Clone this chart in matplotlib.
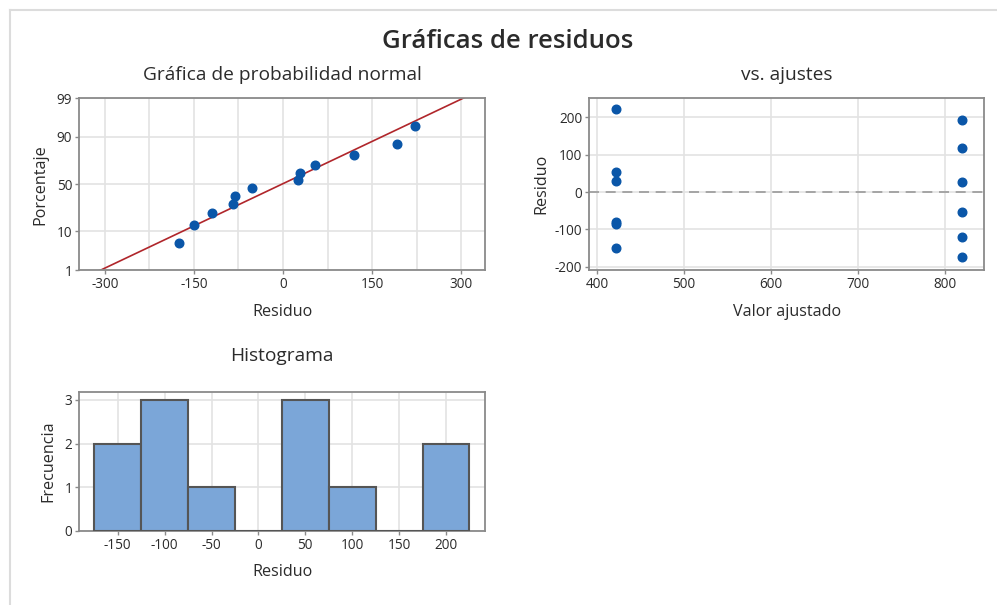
import matplotlib
matplotlib.use("Agg")
import matplotlib.pyplot as plt
from matplotlib.lines import Line2D
from statistics import NormalDist
import numpy as np

# Residuals with the fitted value of each observation
residuals = [222, 54, 29, -81, -85, -150, 192, 119, 26, -53, -120, -175]
fitted = [421, 421, 421, 421, 421, 421, 820, 820, 820, 820, 820, 820]

# Normal probability plot: plotting positions (percent) for the sorted residuals
prob_percent = [5.6, 13.7, 21.8, 29.8, 37.9, 46.0, 54.0, 62.1, 70.2, 78.2, 86.3, 94.4]
prob_ticks = [1, 10, 50, 90, 99]
prob_xticks = [-300, -150, 0, 150, 300]

# Histogram bins
bin_edges = [-175, -125, -75, -25, 25, 75, 125, 175, 225]
hist_xticks = [-150, -100, -50, 0, 50, 100, 150, 200]
hist_yticks = [0, 1, 2, 3]

fit_xticks = [400, 500, 600, 700, 800]
fit_yticks = [-200, -100, 0, 100, 200]

plt.rcParams['font.family'] = ['Open Sans', 'DejaVu Sans']
plt.rcParams['axes.unicode_minus'] = False

DOT = '#0a56a8'
BAR = '#7ba6d8'
EDGE = '#555555'
SPINE = '#8a8a8a'
GRID = '#e3e3e3'
TXT = '#2b2b2b'
LINE = '#b0262b'

W, H = 997, 605
fig = plt.figure(figsize=(W / 100, H / 100), dpi=100)
fig.patch.set_facecolor('white')


def ax_rect(left, top, right, bottom):
    return [left / W, 1 - bottom / H, (right - left) / W, (bottom - top) / H]


def style(ax):
    for s in ax.spines.values():
        s.set_color(SPINE)
        s.set_linewidth(1.3)
    ax.tick_params(colors=TXT, labelsize=9.8, length=3, width=1, color=SPINE, pad=2)
    ax.set_axisbelow(True)


nd = NormalDist()
LABEL_FS = 11.6
TITLE_FS = 13.8

# --- Normal probability plot ---
ax1 = fig.add_axes(ax_rect(79.3, 98.3, 485, 270))
style(ax1)
sorted_res = np.sort(residuals)
z_pts = [nd.inv_cdf(p / 100) for p in prob_percent]
mu = float(np.mean(residuals))
sd = float(np.std(residuals, ddof=1))
xl = np.array([-343, 340])
ax1.plot(xl, (xl - mu) / sd, color=LINE, lw=1.2, zorder=2)
ax1.plot(sorted_res, z_pts, 'o', color=DOT, ms=6.2, zorder=3)
ax1.set_xlim(-343, 340)
ax1.set_ylim(nd.inv_cdf(0.01), nd.inv_cdf(0.99))
ax1.set_xticks(prob_xticks)
ax1.set_xticks(np.arange(-300, 301, 75), minor=True)
ax1.tick_params(which='minor', length=0)
ax1.set_yticks([nd.inv_cdf(p / 100) for p in prob_ticks])
ax1.set_yticklabels([str(p) for p in prob_ticks])
ax1.grid(True, which='both', axis='x', color=GRID, lw=1.2)
ax1.grid(True, which='major', axis='y', color=GRID, lw=1.2)
ax1.set_xlabel('Residuo', fontsize=LABEL_FS, color=TXT, labelpad=9)
ax1.set_ylabel('Porcentaje', fontsize=LABEL_FS, color=TXT, labelpad=6)
ax1.set_title('Gráfica de probabilidad normal', fontsize=TITLE_FS, color=TXT, pad=13)

# --- Residuals versus fits ---
ax2 = fig.add_axes(ax_rect(589.3, 97.7, 984, 270))
style(ax2)
ax2.axhline(0, color='#9a9a9a', lw=1.2, ls=(0, (6, 4)), zorder=2)
ax2.plot(fitted, residuals, 'o', color=DOT, ms=6.2, zorder=3)
ax2.set_xlim(390.8, 845)
ax2.set_ylim(-208.8, 252.5)
ax2.set_xticks(fit_xticks)
ax2.set_yticks(fit_yticks)
ax2.grid(True, color=GRID, lw=1.2)
ax2.set_xlabel('Valor ajustado', fontsize=LABEL_FS, color=TXT, labelpad=9)
ax2.set_ylabel('Residuo', fontsize=LABEL_FS, color=TXT, labelpad=4)
ax2.set_title('vs. ajustes', fontsize=TITLE_FS, color=TXT, pad=13)

# --- Histogram ---
ax3 = fig.add_axes(ax_rect(79.3, 391.7, 485, 530.7))
style(ax3)
ax3.hist(residuals, bins=bin_edges, color=BAR, edgecolor=EDGE, linewidth=1.5, zorder=3)
ax3.set_xlim(-191, 241.6)
ax3.set_ylim(0, 3.19)
ax3.set_xticks(hist_xticks)
ax3.set_yticks(hist_yticks)
ax3.grid(True, color=GRID, lw=1.2)
ax3.set_xlabel('Residuo', fontsize=LABEL_FS, color=TXT, labelpad=8)
ax3.set_ylabel('Frecuencia', fontsize=LABEL_FS, color=TXT, labelpad=6)
ax3.set_title('Histograma', fontsize=TITLE_FS, color=TXT, pad=22)

fig.suptitle('Gráficas de residuos', x=508 / W, y=1 - 42 / H, fontsize=18.5,
             fontweight='semibold', color=TXT, va='center')

# Light frame along the top and left edges
fig.add_artist(Line2D([9.5 / W, 1], [1 - 9.5 / H, 1 - 9.5 / H], color='#dcdcdc', lw=1.5,
                      transform=fig.transFigure))
fig.add_artist(Line2D([9.5 / W, 9.5 / W], [0, 1 - 9.5 / H], color='#dcdcdc', lw=1.5,
                      transform=fig.transFigure))

fig.savefig('out.png', dpi=100, facecolor='white')
